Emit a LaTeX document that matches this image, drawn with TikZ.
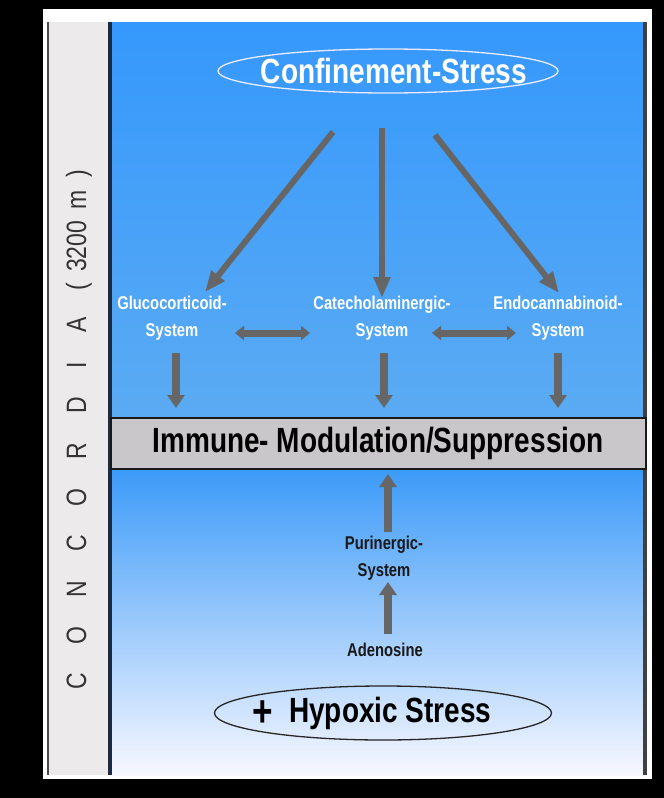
\documentclass[tikz,border=0pt]{standalone}
\usepackage{fontspec}
\setmainfont{Liberation Sans}
\newfontfamily\nf{Liberation Sans}[FakeStretch=0.8]
\newfontfamily\nfl{Liberation Sans}[FakeStretch=0.82]
\usetikzlibrary{arrows.meta,shapes.geometric}
\definecolor{arr}{HTML}{666666}
\definecolor{stripgray}{HTML}{EDEAEC}
\definecolor{leftline}{HTML}{4A4A4A}
\definecolor{divider}{HTML}{1C2B3F}
\definecolor{blueTop}{HTML}{3598FC}
\definecolor{blueMid}{HTML}{5BABF3}
\definecolor{blueLow}{HTML}{3B9AF8}
\definecolor{blueFade}{HTML}{A4CBF6}
\definecolor{bandgray}{HTML}{C9C7C9}
\tikzset{
  fatarrow/.style={draw=arr, line width=6pt, -{Triangle[length=21pt,width=16pt]}},
  downarrow/.style={draw=arr, line width=8pt, -{Triangle[length=13pt,width=17pt]}},
  dblarrow/.style={draw=arr, line width=7pt, {Triangle[length=9pt,width=14pt]}-{Triangle[length=9pt,width=14pt]}},
  wlabel/.style={font=\nf\bfseries\fontsize{18.5}{27}\selectfont, text=white, align=center, inner sep=0pt},
  klabel/.style={font=\nf\bfseries\fontsize{18.5}{27}\selectfont, text=black!90, align=center, inner sep=0pt},
}
\begin{document}
\begin{tikzpicture}[x=1pt,y=-1pt]
\useasboundingbox (0,0) rectangle (664,798);
\fill[black] (0,0) rectangle (664,798);
\fill[white] (43,9) rectangle (652,779);
% left strip
\fill[stripgray] (47,22) rectangle (109,775);
\draw[line width=2pt, leftline] (48,22) -- (48,775);
% blue regions
\shade[top color=blueTop, bottom color=blueMid] (110,22) rectangle (645,417);
\shade[top color=blueLow, middle color=blueFade, bottom color=white!97!blue] (110,468) rectangle (645,775);
% dividers
\fill[divider] (108,22) rectangle (112,775);
\fill[black!75] (643,22) rectangle (647,775);
% vertical label
\node[rotate=90, font=\nfl\fontsize{28}{28}\selectfont, text=black!80, inner sep=0pt] (conc) at (79,430)
 {C\hspace{29pt}O\hspace{29pt}N\hspace{29pt}C\hspace{29pt}O\hspace{29pt}R\hspace{29pt}D\hspace{29pt}I\hspace{29pt}A\hspace{27pt}(\hspace{11pt}3200\hspace{11pt}m\hspace{13pt})};
% band
\node[draw=black!90, line width=2pt, fill=bandgray, minimum width=535pt, minimum height=51pt, inner sep=0pt,
      font=\nf\bfseries\fontsize{35}{35}\selectfont] (band) at (378,443) {Immune- Modulation/Suppression};
% top ellipse
\node[text=white, inner sep=0pt, font=\nf\bfseries\fontsize{35}{35}\selectfont] (conf) at (394,71) {Confinement-Stress};
\draw[white!92!blue, line width=1.3pt] (388,71) ellipse (170 and 22);
% bottom ellipse
\node[inner sep=0pt, font=\nf\bfseries\fontsize{35}{35}\selectfont] (hyp) at (372,713) {\raisebox{-4pt}{\fontsize{44}{44}\selectfont+}\hspace{16pt}Hypoxic Stress};
\draw[black!85, line width=1.3pt] (383,713) ellipse (168.5 and 27);
% system labels
\node[wlabel] (gluc) at (172,318) {Glucocorticoid-\\System};
\node[wlabel] (cat) at (382,318) {Catecholaminergic-\\System};
\node[wlabel] (endo) at (558,318) {Endocannabinoid-\\System};
\node[klabel] (pur) at (384,558) {Purinergic-\\System};
\node[klabel] (ade) at (385,650) {Adenosine};
% arrow coordinates
\coordinate (c1s) at (333,132); \coordinate (c1e) at (205,292);
\coordinate (c2s) at (382,128); \coordinate (c2e) at (382,298);
\coordinate (c3s) at (435,135); \coordinate (c3e) at (559,293);
\draw[fatarrow] (c1s) -- (c1e);
\draw[fatarrow] (c2s) -- (c2e);
\draw[fatarrow] (c3s) -- (c3e);
% horizontal double arrows
\coordinate (h1a) at (235,333); \coordinate (h1b) at (310,333);
\coordinate (h2a) at (432,333); \coordinate (h2b) at (516,333);
\draw[dblarrow] (h1a) -- (h1b);
\draw[dblarrow] (h2a) -- (h2b);
% down arrows
\coordinate (d1a) at (176,353); \coordinate (d1b) at (176,408);
\coordinate (d2a) at (384,353); \coordinate (d2b) at (384,408);
\coordinate (d3a) at (558,353); \coordinate (d3b) at (558,408);
\draw[downarrow] (d1a) -- (d1b);
\draw[downarrow] (d2a) -- (d2b);
\draw[downarrow] (d3a) -- (d3b);
% up arrows
\coordinate (u1a) at (388,532); \coordinate (u1b) at (388,474);
\coordinate (u2a) at (388,634); \coordinate (u2b) at (388,582);
\draw[downarrow] (u1a) -- (u1b);
\draw[downarrow] (u2a) -- (u2b);
\end{tikzpicture}
\end{document}
